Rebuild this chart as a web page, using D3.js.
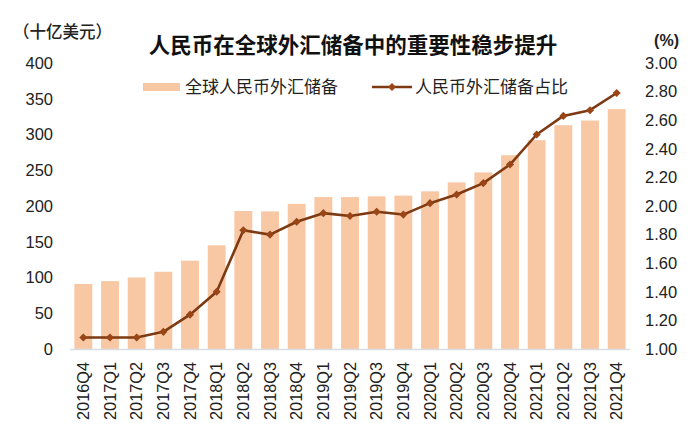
<!DOCTYPE html>
<html><head><meta charset="utf-8">
<script src="https://cdn.jsdelivr.net/npm/d3@7"></script>
<style>
html,body{margin:0;padding:0;background:#fff;}
svg{display:block;font-family:"Liberation Sans",Arial,"Noto Sans CJK SC",sans-serif;}
.cjk{font-family:"Noto Sans CJK SC",sans-serif;}
</style></head>
<body>
<svg id="c" width="700" height="443"></svg>
<script>
const categories = ["2016Q4","2017Q1","2017Q2","2017Q3","2017Q4","2018Q1","2018Q2","2018Q3","2018Q4","2019Q1","2019Q2","2019Q3","2019Q4","2020Q1","2020Q2","2020Q3","2020Q4","2021Q1","2021Q2","2021Q3","2021Q4"];
const reserves = [91, 95, 100, 108, 123.5, 145, 193, 192.5, 203, 212.5, 212.5, 213.5, 214.5, 220.5, 233, 247, 271, 292, 313, 319.5, 335.5];
const share = [1.08, 1.08, 1.08, 1.12, 1.24, 1.40, 1.83, 1.80, 1.89, 1.95, 1.93, 1.96, 1.94, 2.02, 2.08, 2.16, 2.29, 2.50, 2.63, 2.67, 2.79];
const leftTicks = [0,50,100,150,200,250,300,350,400];
const rightTicks = [1.00,1.20,1.40,1.60,1.80,2.00,2.20,2.40,2.60,2.80,3.00];
const title = "人民币在全球外汇储备中的重要性稳步提升";
const leftUnit = "（十亿美元）";
const rightUnit = "(%)";
const barName = "全球人民币外汇储备";
const lineName = "人民币外汇储备占比";

const barColor = "#F8C7A3", lineColor = "#7E3A12", markerColor = "#9A4516";
const svg = d3.select("#c");
const x = d3.scaleBand().domain(categories).range([70,630]).paddingInner(0.33).paddingOuter(0.165);
const yL = d3.scaleLinear().domain([0,400]).range([349,63]);
const yR = d3.scaleLinear().domain([1,3]).range([349,63]);

// bars
svg.append("g").selectAll("rect").data(categories).join("rect")
  .attr("x", d=>x(d)).attr("width", x.bandwidth())
  .attr("y", (d,i)=>yL(reserves[i])).attr("height",(d,i)=>yL(0)-yL(reserves[i]))
  .attr("fill", barColor);

// baseline
svg.append("line").attr("x1",70).attr("x2",630).attr("y1",yL(0)+0.5).attr("y2",yL(0)+0.5)
  .attr("stroke","#D9DDE3").attr("stroke-width",1.5);

// left axis
const axL = d3.axisLeft(yL).tickValues(leftTicks).tickSize(0).tickPadding(0);
const gL = svg.append("g").attr("transform","translate(53,0)").call(axL);
gL.select(".domain").remove();
gL.selectAll("text").attr("font-size",16.5).attr("fill","#222").attr("font-family","Liberation Sans, Arial, sans-serif");

// right axis
const axR = d3.axisRight(yR).tickValues(rightTicks).tickFormat(d3.format(".2f")).tickSize(0).tickPadding(0);
const gR = svg.append("g").attr("transform","translate(645,0)").call(axR);
gR.select(".domain").remove();
gR.selectAll("text").attr("font-size",16.5).attr("fill","#222").attr("font-family","Liberation Sans, Arial, sans-serif");

// x axis labels
const axB = d3.axisBottom(x).tickSize(0).tickPadding(0);
const gB = svg.append("g").attr("transform","translate(0,362)").call(axB);
gB.select(".domain").remove();
gB.selectAll("text").attr("font-size",16.3).attr("fill","#222").attr("font-family","Liberation Sans, Arial, sans-serif")
  .attr("transform","rotate(-90)").attr("text-anchor","end").attr("dy","0.35em").attr("x",0).attr("y",0);

// line
const cx = (d)=>x(d)+x.bandwidth()/2;
const line = d3.line().x((d,i)=>cx(categories[i])).y(d=>yR(d));
svg.append("path").datum(share).attr("d",line).attr("fill","none")
  .attr("stroke",lineColor).attr("stroke-width",2.6).attr("stroke-linejoin","round");
const diamond = d3.symbol().type(d3.symbolDiamond2).size(42);
svg.append("g").selectAll("path").data(share).join("path")
  .attr("d", diamond)
  .attr("transform",(d,i)=>`translate(${cx(categories[i])},${yR(d)})`)
  .attr("fill",markerColor);

// title & units
svg.append("text").attr("class","cjk").attr("x",353).attr("y",53).attr("text-anchor","middle")
  .attr("font-size",21.5).attr("font-weight","bold").attr("fill","#111").text(title);
svg.append("text").attr("class","cjk").attr("x",13).attr("y",38)
  .attr("font-size",16.5).attr("font-weight","500").attr("fill","#222").text(leftUnit);
svg.append("text").attr("x",679).attr("y",46).attr("text-anchor","end")
  .attr("font-size",16).attr("font-weight","bold").attr("fill","#222").text(rightUnit);

// legend
svg.append("rect").attr("x",143).attr("y",83).attr("width",37).attr("height",8).attr("fill",barColor);
svg.append("text").attr("class","cjk").attr("x",185).attr("y",93).attr("font-size",17).attr("fill","#222").text(barName);
svg.append("line").attr("x1",372).attr("x2",412).attr("y1",87).attr("y2",87).attr("stroke",lineColor).attr("stroke-width",2.6);
svg.append("path").attr("d",diamond).attr("transform","translate(392,87)").attr("fill",markerColor);
svg.append("text").attr("class","cjk").attr("x",415).attr("y",93).attr("font-size",17).attr("fill","#222").text(lineName);
</script>
</body></html>
